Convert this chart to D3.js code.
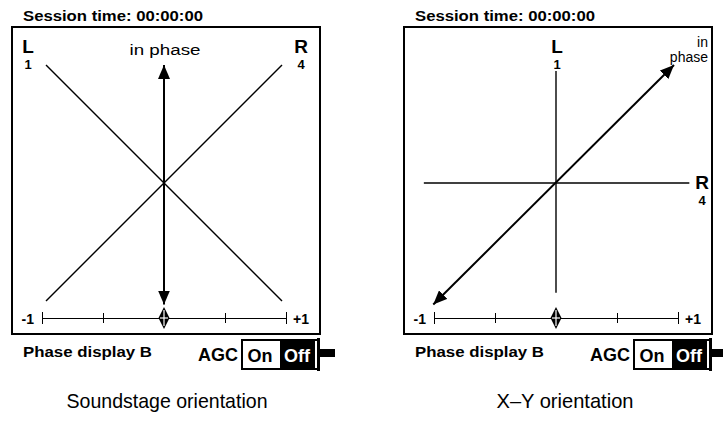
<!DOCTYPE html>
<html>
<head>
<meta charset="utf-8">
<script src="https://cdn.jsdelivr.net/npm/d3@7"></script>
<style>
  body { margin: 0; background: #fff; }
  svg { display: block; }
  text { font-family: "Liberation Sans", Arial, Helvetica, sans-serif; fill: #000; }
  .narrow { font-family: "Liberation Sans Narrow", "Arial Narrow", "Liberation Sans", sans-serif; }
</style>
</head>
<body>
<div id="chart"></div>
<script>
// data
const panelNames = ['Soundstage orientation', 'X\u2013Y orientation'];
const sessionLabel = 'Session time: 00:00:00';
const footerLabel = 'Phase display B';
const phaseTicks = [-1, -0.5, 0, 0.5, 1];
const phaseEndLabels = ['-1', '+1'];
const phaseValue = 0;
const agcStates = ['On', 'Off'];

// goniometer traces, normalised [-1,1] coordinates (x right, y up)
const soundstageLines = [
  {x1: -1, y1: 1, x2: 1, y2: -1, arrow: false},
  {x1: 1, y1: 1, x2: -1, y2: -1, arrow: false},
  {x1: 0, y1: -1.03, x2: 0, y2: 1.0, arrow: true}
];
const xyLines = [
  {x1: 0, y1: 0.95, x2: 0, y2: -0.93, arrow: false},
  {x1: -1.12, y1: 0, x2: 1.13, y2: 0, arrow: false},
  {x1: -1.04, y1: -1.03, x2: 1.0, y2: 1.0, arrow: true}
];

const width = 723, height = 427;
const svg = d3.select('#chart').append('svg')
  .attr('width', width).attr('height', height);

const defs = svg.append('defs');
['start', 'end'].forEach(k => {
  defs.append('marker')
    .attr('id', 'arr-' + k)
    .attr('markerUnits', 'userSpaceOnUse')
    .attr('viewBox', '0 -6 14 12')
    .attr('refX', k === 'end' ? 14 : 0).attr('refY', 0)
    .attr('markerWidth', 14).attr('markerHeight', 12)
    .attr('orient', 'auto')
    .append('path')
    .attr('d', k === 'end' ? 'M0,-6L14,0L0,6Z' : 'M14,-6L0,0L14,6Z')
    .attr('fill', '#000');
});

function drawPanel(px, idx) {
  const g = svg.append('g').attr('transform', `translate(${px},0)`);
  const box = {x: 12, y: 27, w: 308, h: 307};
  const cx = 164, cy = 183;

  g.append('text').attr('x', 23).attr('y', 21)
    .attr('font-size', 14).attr('font-weight', 'bold')
    .attr('textLength', 180).attr('lengthAdjust', 'spacingAndGlyphs')
    .text(sessionLabel);

  g.append('rect').attr('x', box.x).attr('y', box.y)
    .attr('width', box.w).attr('height', box.h)
    .attr('fill', 'none').attr('stroke', '#000').attr('stroke-width', 2);

  // scales for the goniometer traces
  const gx = d3.scaleLinear([-1, 1], [cx - 118, cx + 118]);
  const gy = d3.scaleLinear([-1, 1], [cy + 118, cy - 118]);
  const lines = idx === 0 ? soundstageLines : xyLines;

  g.selectAll('.trace').data(lines).enter().append('line')
    .attr('class', 'trace')
    .attr('x1', d => gx(d.x1)).attr('y1', d => gy(d.y1))
    .attr('x2', d => gx(d.x2)).attr('y2', d => gy(d.y2))
    .attr('stroke', '#000')
    .attr('stroke-width', d => d.arrow ? 2 : 1.4)
    .attr('marker-start', d => d.arrow ? 'url(#arr-start)' : null)
    .attr('marker-end', d => d.arrow ? 'url(#arr-end)' : null);

  // channel labels
  const chan = idx === 0
    ? [{t: 'L', n: '1', x: 28, y: 53}, {t: 'R', n: '4', x: 301, y: 53}]
    : [{t: 'L', n: '1', x: cx + 1, y: 53}, {t: 'R', n: '4', x: 310, y: 189}];
  chan.forEach(c => {
    g.append('text').attr('x', c.x).attr('y', c.y).attr('text-anchor', 'middle')
      .attr('font-size', 19).attr('font-weight', 'bold').text(c.t);
    g.append('text').attr('x', c.x).attr('y', c.y + 16).attr('text-anchor', 'middle')
      .attr('font-size', 13).attr('font-weight', 'bold').text(c.n);
  });
  if (idx === 1) {
    g.append('text').attr('x', 316).attr('y', 47).attr('text-anchor', 'end')
      .attr('font-size', 14).text('in');
    g.append('text').attr('x', 316).attr('y', 62).attr('text-anchor', 'end')
      .attr('font-size', 14).text('phase');
  } else {
    g.append('text').attr('x', cx + 1).attr('y', 55).attr('text-anchor', 'middle')
      .attr('font-size', 14).attr('textLength', 71).attr('lengthAdjust', 'spacingAndGlyphs')
      .text('in phase');
  }

  // phase correlation scale
  const x = d3.scaleLinear([-1, 1], [cx - 122, cx + 122]);
  const axisY = 318;
  const axis = d3.axisBottom(x).tickValues(phaseTicks).tickSize(0).tickFormat('');
  const ag = g.append('g').attr('transform', `translate(0,${axisY})`).call(axis);
  ag.select('.domain').attr('stroke', '#000').attr('stroke-width', 1);
  ag.selectAll('.tick').append('line')
    .attr('y1', d => Math.abs(d) === 1 ? -6 : -5)
    .attr('y2', d => Math.abs(d) === 1 ? 6 : 5)
    .attr('stroke', '#000').attr('stroke-width', 1);

  g.append('text').attr('x', x(-1) - 8).attr('y', axisY + 6).attr('text-anchor', 'end')
    .attr('font-size', 14).attr('font-weight', 'bold').text(phaseEndLabels[0]);
  g.append('text').attr('x', x(1) + 7).attr('y', axisY + 6)
    .attr('font-size', 14).attr('font-weight', 'bold').text(phaseEndLabels[1]);

  // correlation pointer
  const mx = x(phaseValue);
  g.append('path')
    .attr('d', `M${mx},${axisY - 11}L${mx + 5.5},${axisY}L${mx},${axisY + 11}L${mx - 5.5},${axisY}Z`)
    .attr('fill', '#000');
  g.append('line').attr('x1', mx - 4).attr('x2', mx + 4).attr('y1', axisY).attr('y2', axisY)
    .attr('stroke', '#fff').attr('stroke-width', 1.2);
  g.append('line').attr('x1', mx).attr('x2', mx).attr('y1', axisY - 8).attr('y2', axisY + 8)
    .attr('stroke', '#fff').attr('stroke-width', 1.2);

  // footer
  g.append('text').attr('x', 23).attr('y', 357)
    .attr('font-size', 14).attr('font-weight', 'bold')
    .attr('textLength', 129).attr('lengthAdjust', 'spacingAndGlyphs')
    .text(footerLabel);
  g.append('text').attr('x', 198).attr('y', 361)
    .attr('font-size', 19).attr('font-weight', 'bold')
    .attr('textLength', 40).attr('lengthAdjust', 'spacingAndGlyphs')
    .text('AGC');

  // AGC switch
  const sw = g.append('g');
  sw.append('rect').attr('x', 242).attr('y', 340).attr('width', 76).attr('height', 29)
    .attr('fill', '#fff').attr('stroke', '#000').attr('stroke-width', 2);
  sw.append('rect').attr('x', 280).attr('y', 340).attr('width', 35).attr('height', 29)
    .attr('fill', '#000');
  sw.append('rect').attr('x', 317).attr('y', 338).attr('width', 3).attr('height', 33)
    .attr('fill', '#000');
  sw.append('rect').attr('x', 320).attr('y', 349).attr('width', 15).attr('height', 8)
    .attr('fill', '#000');
  sw.append('text').attr('x', 260).attr('y', 362).attr('text-anchor', 'middle')
    .attr('font-size', 18).attr('font-weight', 'bold').text(agcStates[0]);
  sw.append('text').attr('x', 297).attr('y', 362).attr('text-anchor', 'middle')
    .attr('font-size', 18).attr('font-weight', 'bold').style('fill', '#fff').text(agcStates[1]);

  g.append('text').attr('class', 'narrow')
    .attr('x', idx === 0 ? 167 : 173).attr('y', 408).attr('text-anchor', 'middle')
    .attr('font-size', 21)
    .attr('textLength', idx === 0 ? 201 : 137).attr('lengthAdjust', 'spacingAndGlyphs')
    .text(panelNames[idx]);
}

drawPanel(0, 0);
drawPanel(392, 1);
</script>
</body>
</html>
